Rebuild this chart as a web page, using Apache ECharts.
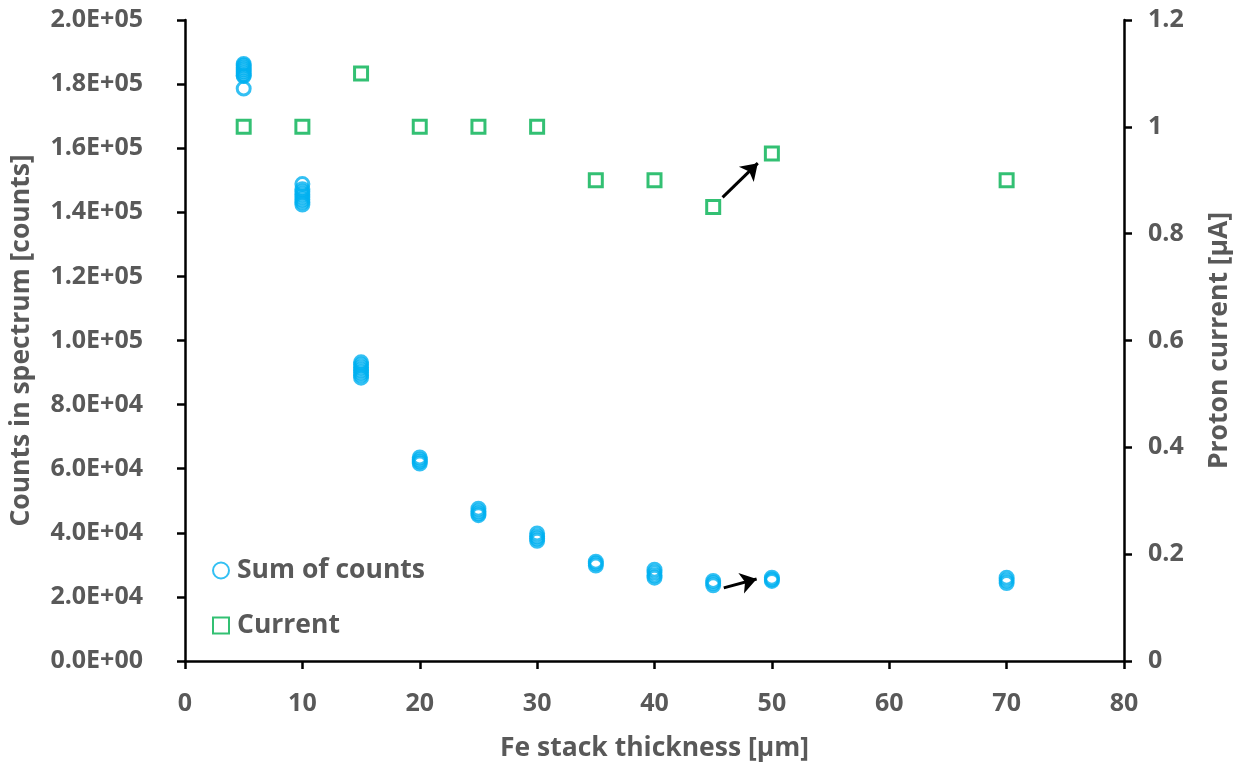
<!DOCTYPE html>
<html>
<head>
<meta charset="utf-8">
<script src="https://cdn.jsdelivr.net/npm/echarts@6/dist/echarts.min.js"></script>
<style>
  html, body { margin: 0; padding: 0; background: #fff; }
  #chart { width: 1243px; height: 769px; }
</style>
</head>
<body>
<div id="chart"></div>
<script>
// Fe stack thickness [µm] for each measurement set
const thickness = [5, 10, 15, 20, 25, 30, 35, 40, 45, 50, 70];

// Repeated spectrum sums recorded at each thickness
const countsAt5  = [186300, 185800, 185200, 184600, 184000, 183400, 182800, 182500, 178600];
const countsAt10 = [148800, 147200, 146400, 145600, 144800, 144000, 143200, 142400];
const countsAt15 = [93200, 92400, 91600, 90800, 90000, 89200, 88400];
const countsAt20 = [63500, 62800, 62200, 61600];
const countsAt25 = [47500, 46700, 46000, 45500];
const countsAt30 = [39800, 38900, 38200, 37500];
const countsAt35 = [31000, 30400, 29800];
const countsAt40 = [28500, 27600, 26700, 26000];
const countsAt45 = [25000, 24300, 23600];
const countsAt50 = [26000, 25400, 25000];
const countsAt70 = [26000, 25100, 24300];
const countsSets = [countsAt5, countsAt10, countsAt15, countsAt20, countsAt25, countsAt30,
                    countsAt35, countsAt40, countsAt45, countsAt50, countsAt70];

// Proton current [µA] per thickness
const current = [1, 1, 1.1, 1, 1, 1, 0.9, 0.9, 0.85, 0.95, 0.9];

// Arrow annotations (data coordinates): tail -> head
const countsArrow = [[45.9, 22800], [48.7, 25600]];
const currentArrow = [[45.8, 0.868], [48.8, 0.932]];

const countsData = [];
thickness.forEach((t, i) => countsSets[i].forEach(v => countsData.push([t, v])));
const currentData = thickness.map((t, i) => [t, current[i]]);

const textGray = '#595959';
const font = '"Open Sans", sans-serif';
const labelStyle = { color: textGray, fontFamily: font, fontWeight: 'bold', fontSize: 25 };
const titleStyle = { color: textGray, fontFamily: font, fontWeight: 'bold', fontSize: 26.5 };

function sci(v) {
  const s = v.toExponential(1).toUpperCase();   // e.g. 2.0E+5
  return s.replace(/E([+-])(\d)$/, 'E$10$2');
}

const axisLine = { show: true, lineStyle: { color: '#000', width: 2.5 } };
const axisTick = { show: true, inside: false, length: 8, lineStyle: { color: '#000', width: 2.5 } };

const chart = echarts.init(document.getElementById('chart'), null, { renderer: 'canvas' });
chart.setOption({
  animation: false,
  backgroundColor: '#fff',
  grid: { left: 185, right: 119, top: 20, bottom: 108 },
  legend: {
    orient: 'vertical',
    left: 207,
    top: 552,
    itemWidth: 16,
    itemHeight: 16,
    itemGap: 28,
    textStyle: Object.assign({ padding: [0, 0, 0, 3] }, titleStyle),
    data: ['Sum of counts', 'Current']
  },
  xAxis: {
    type: 'value',
    min: 0, max: 80, interval: 10,
    name: 'Fe stack thickness [µm]',
    nameLocation: 'middle',
    nameGap: 74,
    nameTextStyle: titleStyle,
    axisLine: axisLine,
    axisTick: axisTick,
    axisLabel: Object.assign({ margin: 30 }, labelStyle),
    splitLine: { show: false }
  },
  yAxis: [
    {
      type: 'value',
      min: 0, max: 200000, interval: 20000,
      name: 'Counts in spectrum [counts]',
      nameLocation: 'middle',
      nameGap: 150,
      nameTextStyle: titleStyle,
      axisLine: axisLine,
      axisTick: axisTick,
      axisLabel: Object.assign({ margin: 42, formatter: sci }, labelStyle),
      splitLine: { show: false }
    },
    {
      type: 'value',
      min: 0, max: 1.2, interval: 0.2,
      position: 'right',
      name: 'Proton current [µA]',
      nameLocation: 'middle',
      nameGap: 82,
      nameRotate: 90,
      nameTextStyle: titleStyle,
      axisLine: axisLine,
      axisTick: axisTick,
      axisLabel: Object.assign({ margin: 24, formatter: v => String(Math.round(v * 10) / 10) }, labelStyle),
      splitLine: { show: false }
    }
  ],
  series: [
    {
      name: 'Sum of counts',
      type: 'scatter',
      yAxisIndex: 0,
      symbol: 'circle',
      symbolSize: 13,
      itemStyle: { color: 'rgba(255,255,255,0)', borderColor: '#00B0F0', borderWidth: 3 },
      data: countsData,
      markLine: {
        silent: true,
        symbol: ['none', 'arrow'],
        symbolSize: [16, 16],
        label: { show: false },
        lineStyle: { color: '#000', width: 3, type: 'solid' },
        data: [[{ coord: countsArrow[0] }, { coord: countsArrow[1] }]]
      },
      z: 3
    },
    {
      name: 'Current',
      type: 'scatter',
      yAxisIndex: 1,
      symbol: 'rect',
      symbolSize: 13,
      itemStyle: { color: 'rgba(255,255,255,0)', borderColor: '#00B050', borderWidth: 3 },
      data: currentData,
      markLine: {
        silent: true,
        symbol: ['none', 'arrow'],
        symbolSize: [16, 16],
        label: { show: false },
        lineStyle: { color: '#000', width: 3, type: 'solid' },
        data: [[{ coord: currentArrow[0] }, { coord: currentArrow[1] }]]
      },
      z: 3
    }
  ]
});
</script>
</body>
</html>
